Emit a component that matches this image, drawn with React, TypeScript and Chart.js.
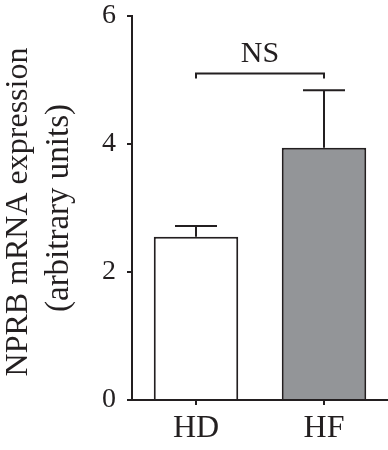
import React, { useEffect, useRef } from 'react';
import { Chart, registerables } from 'chart.js';

Chart.register(...registerables);

const categories = ['HD', 'HF'];
const means = [2.55, 3.94];
const errors = [0.17, 0.9];
const barColors = ['#ffffff', '#939598'];
const yMin = 0;
const yMax = 6;
const yStep = 2;
const yTitleLines = ['NPRB mRNA expression', '(arbitrary units)'];
const sigLabel = 'NS';
const sigLevel = 5.1;

const INK = '#231f20';
const FONT = '"Liberation Serif", "Times New Roman", serif';

const overlayPlugin = {
  id: 'overlay',
  afterDatasetsDraw(chart: any) {
    const ctx = chart.ctx;
    const yScale = chart.scales.y;
    const meta = chart.getDatasetMeta(0);
    ctx.save();
    ctx.strokeStyle = INK;
    ctx.lineWidth = 2;
    ctx.lineCap = 'butt';
    // error bars (upper only)
    meta.data.forEach((el: any, i: number) => {
      const x = el.x;
      const yTop = el.y;
      const yErr = yScale.getPixelForValue(means[i] + errors[i]);
      ctx.beginPath();
      ctx.moveTo(x, yTop);
      ctx.lineTo(x, yErr);
      ctx.moveTo(x - 21, yErr);
      ctx.lineTo(x + 21, yErr);
      ctx.stroke();
    });
    // significance bracket
    const x1 = meta.data[0].x;
    const x2 = meta.data[1].x;
    const yb = yScale.getPixelForValue(sigLevel);
    ctx.beginPath();
    ctx.moveTo(x1, yb + 5);
    ctx.lineTo(x1, yb);
    ctx.lineTo(x2, yb);
    ctx.lineTo(x2, yb + 5);
    ctx.stroke();
    ctx.fillStyle = INK;
    ctx.font = `30px ${FONT}`;
    ctx.textAlign = 'center';
    ctx.textBaseline = 'alphabetic';
    ctx.fillText(sigLabel, (x1 + x2) / 2, yb - 12);
    // y-axis title
    const sizes = [32, 33];
    const centers = [212, 208];
    const baselines = [27, 68];
    yTitleLines.forEach((line, i) => {
      ctx.save();
      ctx.font = `${sizes[i]}px ${FONT}`;
      ctx.translate(baselines[i], centers[i]);
      ctx.rotate(-Math.PI / 2);
      ctx.fillText(line, 0, 0);
      ctx.restore();
    });
    ctx.restore();
  },
};

export default function App() {
  const canvasRef = useRef<HTMLCanvasElement | null>(null);

  useEffect(() => {
    if (!canvasRef.current) return;
    const chart = new Chart(canvasRef.current, {
      type: 'bar',
      data: {
        labels: categories,
        datasets: [
          {
            data: means,
            backgroundColor: barColors,
            borderColor: INK,
            borderWidth: 2,
            categoryPercentage: 1,
            barPercentage: 0.66,
          },
        ],
      },
      options: {
        responsive: false,
        animation: false,
        layout: { padding: 0 },
        plugins: {
          legend: { display: false },
          tooltip: { enabled: false },
        },
        scales: {
          x: {
            offset: true,
            grid: {
              display: true,
              drawOnChartArea: false,
              drawTicks: true,
              tickLength: 5,
              color: INK,
              lineWidth: 2,
              offset: false,
            },
            border: { display: true, color: INK, width: 2 },
            ticks: {
              color: INK,
              padding: 4,
              font: { family: FONT, size: 32 },
            },
            afterFit: (scale: any) => {
              scale.height = 50;
              scale.paddingLeft = 0;
              scale.paddingRight = 0;
            },
          },
          y: {
            min: yMin,
            max: yMax,
            grid: {
              display: true,
              drawOnChartArea: false,
              drawTicks: true,
              tickLength: 5,
              color: INK,
              lineWidth: 2,
            },
            border: { display: true, color: INK, width: 2 },
            ticks: {
              stepSize: yStep,
              color: INK,
              padding: 11,
              font: { family: FONT, size: 28 },
            },
            afterFit: (scale: any) => {
              scale.width = 132;
              scale.paddingTop = 16;
              scale.paddingBottom = 0;
            },
          },
        },
      },
      plugins: [overlayPlugin],
    });
    return () => chart.destroy();
  }, []);

  return (
    <div style={{ position: 'absolute', left: 0, top: 0, width: 388, height: 450, background: '#fff' }}>
      <canvas ref={canvasRef} width={388} height={450} />
    </div>
  );
}
